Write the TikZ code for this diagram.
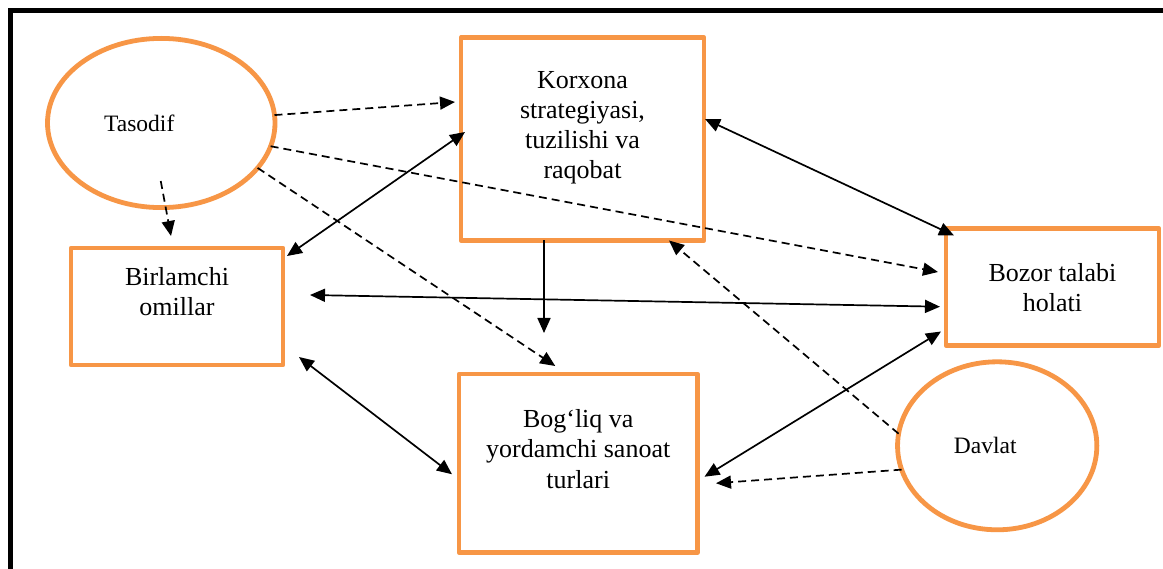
\documentclass[tikz,border=0pt]{standalone}
\usepackage{fontspec}
\setmainfont{Liberation Serif}
\usetikzlibrary{arrows.meta,shapes.geometric,calc}
\definecolor{boxorange}{RGB}{247,150,70}
\tikzset{
  box/.style={draw=boxorange, line width=4.8pt, line join=round, inner sep=0pt, outer sep=0pt},
  oval/.style={ellipse, draw=boxorange, line width=4.8pt, inner sep=0pt, outer sep=0pt},
  boxtext/.style={anchor=north, align=center, inner sep=0pt, font=\fontsize{26}{30.3}\selectfont},
  ovaltext/.style={anchor=base, inner sep=0pt, font=\fontsize{23.5}{28}\selectfont},
  link/.style={line width=1.7pt, -{Triangle[length=15pt,width=13pt]}},
  biglink/.style={line width=1.7pt, {Triangle[length=15pt,width=13pt]}-{Triangle[length=15pt,width=13pt]}},
  hint/.style={link, dash pattern=on 8pt off 5pt}
}
\begin{document}
\begin{tikzpicture}[x=1pt,y=-1pt]
\clip (0,0) rectangle (1163,569);
\fill[white] (0,0) rectangle (1163,569);

% outer frame, running off the page on the right and at the bottom
\draw[line width=5pt] (10,640) |- (1240,11);

% boxes
\node[box, minimum width=243pt, minimum height=203pt] (k) at (582.5,139) {};
\node[box, minimum width=212pt, minimum height=117pt] (b) at (177,306.5) {};
\node[box, minimum width=213pt, minimum height=117pt] (z) at (1052.5,287) {};
\node[box, minimum width=238.5pt, minimum height=178.5pt] (g) at (578.25,463.25) {};

% ovals
\node[oval, minimum width=227.5pt, minimum height=169.2pt] (t) at (161.25,123) {};
\node[oval, minimum width=199.3pt, minimum height=168pt] (d) at (997.2,445.8) {};

% texts
\node[boxtext] (kt) at ($(k.north)+(0,33.3)$) {Korxona\\strategiyasi,\\tuzilishi va\\raqobat};
\node[boxtext] (bt) at ($(b.north)+(0,19.2)$) {Birlamchi\\omillar};
\node[boxtext] (zt) at ($(z.north)+(0,34.7)$) {Bozor talabi\\holati};
\node[boxtext] (gt) at ($(g.north)+(0,35.2)$) {Bog‘liq va\\yordamchi sanoat\\turlari};
\node[ovaltext] (tt) at ($(t.center)+(-22,9)$) {Tasodif};
\node[ovaltext] (dt) at ($(d.center)+(-12,8)$) {Davlat};

% chance factors
\draw[hint] (t.4.5) -- ($(k.west)+(-6,-37)$);
\draw[hint] (t.-12) -- ($(z.west)+(-8,-15)$);
\draw[hint] ($(t.center)+(-0.5,58)$) -- ($(b.north)+(-6,-12)$);
\draw[hint] (t.-25.8) -- ($(g.north)+(-23,-8)$);

% mutual links
\draw[biglink] ($(k.west)+(4,-7)$) -- ($(b.north east)+(4,8)$);
\draw[biglink] ($(k.east)+(1,-20)$) -- ($(z.north west)+(8,7)$);
\draw[link] ($(k.south)+(-38.5,0)$) -- ($(g.north)+(-34.25,-41)$);
\draw[biglink] ($(b.east)+(27,-11.5)$) -- ($(z.west)+(-6,19.7)$);
\draw[biglink] ($(b.south east)+(16,-8)$) -- ($(g.west)+(-7,11)$);
\draw[biglink] ($(z.south west)+(-5,-14)$) -- ($(g.east)+(7,13.5)$);

% government
\draw[hint] (d.173.8) -- ($(k.south east)+(-35,0)$);
\draw[hint] (d.194.7) -- ($(g.east)+(18.5,20)$);
\end{tikzpicture}
\end{document}
